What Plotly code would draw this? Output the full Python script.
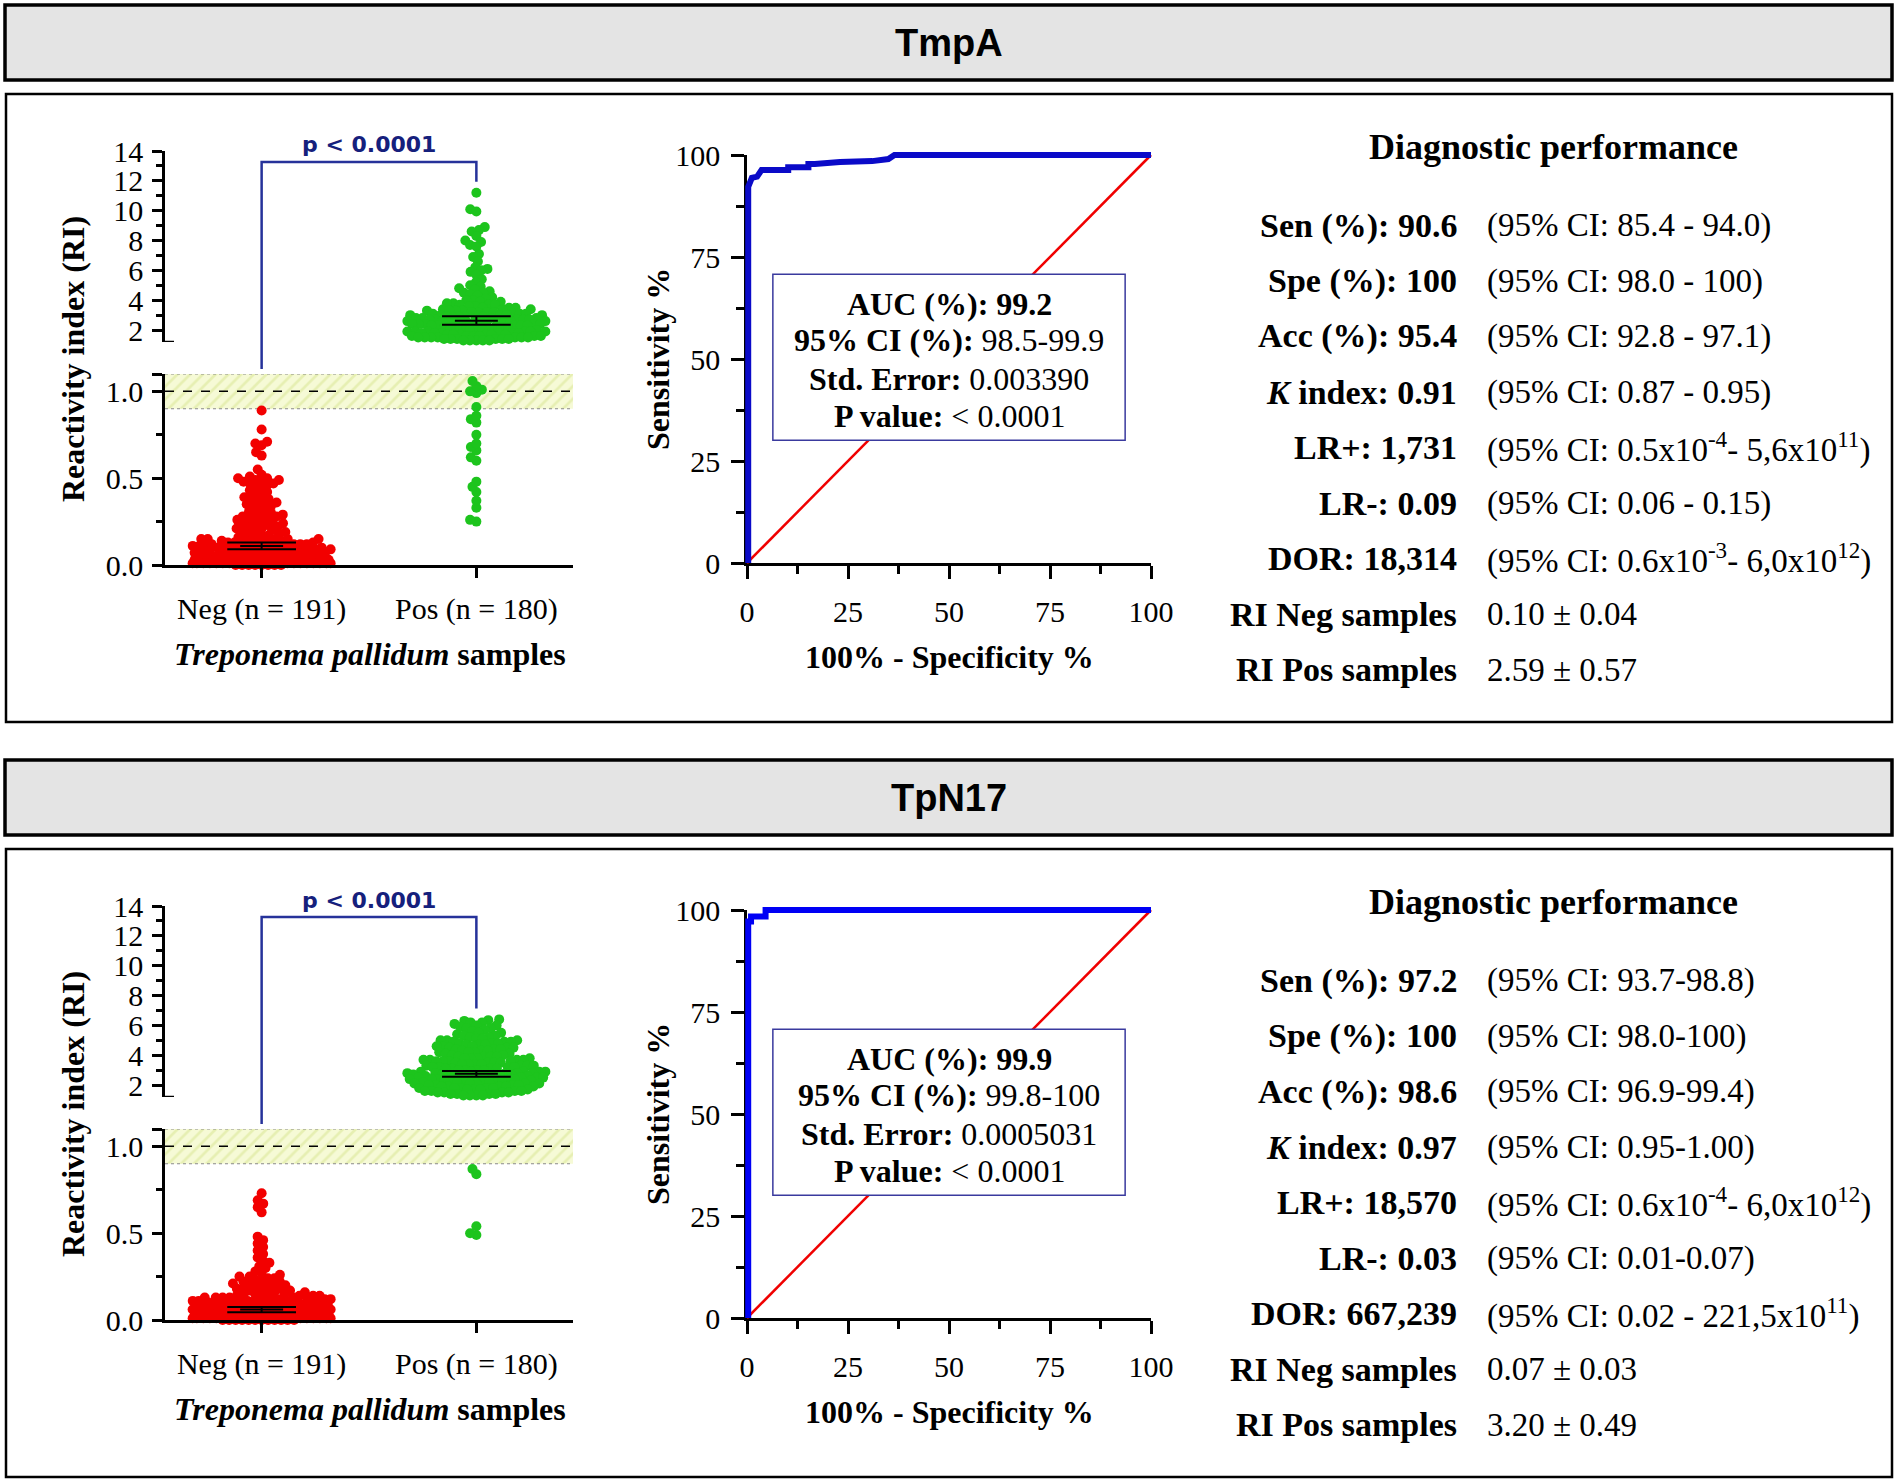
import math
import plotly.graph_objects as go

W, H = 1898, 1481
SERIF = "Liberation Serif"

# ---------------- data ----------------
panel_names = ["TmpA", "TpN17"]
group_names = ["Neg (n = 191)", "Pos (n = 180)"]
dot_colors = ["#F20000", "#1DC41D"]


def vals(s):
    return [float(v) for v in s.split()]


neg_tmpa = vals("""
0.00 0.00 0.00 0.00 0.00 0.00 0.00 0.00
0.01 0.01 0.01 0.01 0.01 0.01 0.01 0.01 0.01 0.01 0.01 0.01 0.01 0.01 0.01 0.01 0.01 0.01 0.01 0.01
0.02 0.02 0.02 0.02 0.02 0.02 0.02 0.02 0.02 0.02 0.02 0.02 0.02 0.02 0.02 0.02 0.02 0.02
0.03 0.03 0.03 0.03 0.03 0.03 0.03 0.03 0.03 0.03 0.03 0.03 0.03 0.03
0.04 0.04 0.04 0.04 0.04 0.04
0.05 0.05 0.05 0.05 0.05 0.05
0.06 0.06 0.06 0.06 0.06 0.06
0.07 0.07 0.07 0.07 0.07
0.08 0.08 0.08 0.08 0.08
0.09 0.09 0.09 0.09 0.09 0.09
0.10 0.10 0.10 0.10 0.10 0.10
0.11 0.11 0.11 0.11 0.11
0.12 0.12 0.12 0.12 0.12
0.13 0.13 0.13 0.13 0.13
0.14 0.14 0.14 0.14
0.15 0.15 0.15 0.15 0.15
0.16 0.16 0.17 0.17 0.18 0.18 0.19 0.19 0.20 0.20 0.21 0.21 0.22 0.22 0.23 0.23 0.24 0.24 0.25 0.25
0.26 0.26 0.27 0.27 0.28 0.28 0.29 0.29 0.30 0.30 0.31
0.32 0.33 0.34 0.34 0.35 0.36 0.36 0.37 0.38 0.38 0.39 0.40 0.41 0.42 0.43 0.44 0.45 0.46 0.47
0.47 0.48 0.48 0.49 0.49 0.50 0.50 0.51 0.52 0.55
0.63 0.65 0.69 0.70 0.71 0.78 0.89
""")

pos_tmpa = vals("""
0.25 0.26 0.33 0.37 0.42 0.45 0.48 0.60 0.62 0.66 0.68 0.70 0.75 0.82 0.84 0.86 0.91
0.99 1.00 1.01 1.03 1.06
11.2 10.1 9.95
8.9 8.7 8.6 8.3 8.0 7.9 7.7 7.6
7.1 6.9 6.6 6.2 6.1 6.0 5.9 5.7 5.4 5.2
5.0 4.9 4.8 4.7 4.6 4.5 4.5 4.4 4.3 4.2 4.1 4.0 4.0 3.9 3.9
3.8 3.8 3.7 3.7 3.7 3.6 3.6 3.5 3.5 3.5 3.4 3.4 3.4 3.3 3.3 3.3 3.3
3.2 3.2 3.2 3.2 3.1 3.1 3.1 3.1 3.0 3.0 3.0 3.0 3.0
2.9 2.9 2.9 2.9 2.9 2.8 2.8 2.8 2.8 2.8 2.7 2.7 2.7 2.7 2.7
2.6 2.6 2.6 2.6 2.6 2.6 2.5 2.5 2.5 2.5 2.5 2.5 2.4 2.4 2.4 2.4 2.4 2.4
2.3 2.3 2.3 2.3 2.3 2.2 2.2 2.2 2.2 2.1 2.1 2.1 2.1 2.0 2.0 2.0 2.0
1.9 1.9 1.9 1.9 1.9 1.9 1.8 1.8 1.8 1.8 1.8 1.8 1.7 1.7 1.7 1.7 1.7 1.7
1.6 1.6 1.6 1.6 1.6 1.6 1.5 1.5 1.5 1.5 1.5 1.5 1.5 1.4 1.4 1.4 1.4 1.4 1.4
1.3 1.3 1.3 1.3 1.3
""")

neg_tpn17 = vals("""
0.00 0.00 0.00 0.00 0.00 0.00 0.00 0.00 0.00 0.00 0.00 0.00
0.01 0.01 0.01 0.01 0.01 0.01 0.01 0.01 0.01 0.01 0.01 0.01 0.01 0.01 0.01 0.01 0.01 0.01 0.01 0.01 0.01 0.01
0.02 0.02 0.02 0.02 0.02 0.02 0.02 0.02 0.02 0.02 0.02 0.02 0.02 0.02 0.02 0.02 0.02 0.02 0.02 0.02
0.03 0.03 0.03 0.03 0.03 0.03 0.03 0.03 0.03 0.03 0.03 0.03 0.03 0.03 0.03 0.03
0.04 0.04 0.04 0.04 0.04 0.04 0.04 0.04 0.04
0.05 0.05 0.05 0.05 0.05 0.05 0.05 0.05
0.06 0.06 0.06 0.06 0.06 0.06 0.06 0.06
0.07 0.07 0.07 0.07 0.07 0.07 0.07
0.08 0.08 0.08 0.08 0.08 0.08
0.09 0.09 0.09 0.09 0.09 0.09 0.09 0.09
0.10 0.10 0.10 0.10 0.10 0.10 0.10
0.11 0.11 0.11 0.11 0.11 0.11 0.11
0.12 0.12 0.12 0.12 0.12 0.12
0.13 0.13 0.13 0.13 0.13
0.14 0.14 0.14 0.14 0.14
0.15 0.15 0.15
0.16 0.16 0.16 0.17 0.17 0.18 0.18 0.18 0.19 0.19 0.20 0.20 0.20 0.21 0.21 0.22 0.22 0.23 0.23
0.24 0.24 0.25 0.25 0.26
0.27 0.28 0.30 0.31 0.33 0.34 0.36 0.38 0.40 0.42 0.44 0.46 0.48
0.62 0.65 0.67 0.69 0.73
""")

pos_tpn17 = vals("""
0.49 0.50 0.54 0.84 0.87
6.4 6.35 6.3 6.2 6.2 6.1 6.0 6.0
5.9 5.8 5.8 5.7 5.6 5.5 5.5 5.4 5.3 5.3 5.2 5.2 5.1 5.1 5.0 5.0 5.0
4.9 4.9 4.9 4.8 4.8 4.8 4.7 4.7 4.7 4.6 4.6 4.6 4.5 4.5 4.5 4.4 4.4 4.4
4.3 4.3 4.3 4.2 4.2 4.2 4.1 4.1 4.0 4.0
3.9 3.9 3.9 3.9 3.8 3.8 3.8 3.8 3.7 3.7 3.7 3.7 3.6 3.6 3.6 3.6 3.5 3.5 3.5 3.5
3.4 3.4 3.4 3.4 3.3 3.3 3.3 3.3 3.2 3.2 3.2 3.2 3.1 3.1 3.1 3.1 3.0 3.0 3.0 3.0
2.9 2.9 2.9 2.9 2.9 2.8 2.8 2.8 2.8 2.8 2.7 2.7 2.7 2.7 2.7 2.7
2.6 2.6 2.6 2.6 2.6 2.6 2.5 2.5 2.5 2.5 2.5 2.5 2.4 2.4 2.4 2.4 2.4
2.3 2.3 2.3 2.3 2.3 2.2 2.2 2.2 2.2 2.2 2.1 2.1 2.1 2.1 2.1 2.0 2.0 2.0 2.0
1.9 1.9 1.9 1.9 1.9 1.8 1.8 1.8 1.8 1.8 1.7 1.7 1.7 1.7 1.6 1.6 1.6 1.6
1.5 1.5 1.5 1.5 1.4 1.4 1.4 1.4 1.3 1.3 1.3 1.3
""")

# mean and error bar ends, Neg / Pos
tmpa_mean = [0.11, 2.62]
tmpa_low = [0.09, 2.35]
tmpa_high = [0.13, 2.92]
tpn17_mean = [0.06, 2.75]
tpn17_low = [0.045, 2.55]
tpn17_high = [0.075, 2.95]

cutoff = 1.0
gray_zone = [0.9, 1.1]
p_text = "p &lt; 0.0001"

# ROC curves (100% - specificity, sensitivity)
roc_tmpa_fpr = [0.3, 0.3, 1.0, 1.2, 2.5, 3.6, 10.2, 10.2, 15.2, 15.2, 16.8, 23.0, 31.0, 35.0, 36.5, 100]
roc_tmpa_sens = [0, 92.2, 93.9, 94.4, 94.7, 96.3, 96.3, 97.0, 97.0, 97.8, 97.8, 98.3, 98.5, 99.0, 100, 100]
roc_tpn17_fpr = [0.3, 0.3, 1.0, 1.0, 4.6, 4.6, 100]
roc_tpn17_sens = [0, 97.2, 97.2, 98.4, 98.4, 100, 100]
roc_colors = ["#0A0AC8", "#0000F5"]

auc_names = ["AUC (%):", "95% CI (%):", "Std. Error:", "P value:"]
auc_tmpa = ["99.2", "98.5-99.9", "0.003390", "&lt; 0.0001"]
auc_tpn17 = ["99.9", "99.8-100", "0.0005031", "&lt; 0.0001"]

diag_tmpa_labels = ["Sen (%): 90.6", "Spe (%): 100", "Acc (%): 95.4", "<i>K</i> index: 0.91",
                    "LR+: 1,731", "LR-: 0.09", "DOR: 18,314", "RI Neg samples", "RI Pos samples"]
diag_tmpa_values = ["(95% CI: 85.4 - 94.0)", "(95% CI: 98.0 - 100)", "(95% CI: 92.8 - 97.1)",
                    "(95% CI: 0.87 - 0.95)", "(95% CI: 0.5x10<sup>-4</sup>- 5,6x10<sup>11</sup>)",
                    "(95% CI: 0.06 - 0.15)", "(95% CI: 0.6x10<sup>-3</sup>- 6,0x10<sup>12</sup>)",
                    "0.10 ± 0.04", "2.59 ± 0.57"]
diag_tpn17_labels = ["Sen (%): 97.2", "Spe (%): 100", "Acc (%): 98.6", "<i>K</i> index: 0.97",
                     "LR+: 18,570", "LR-: 0.03", "DOR: 667,239", "RI Neg samples", "RI Pos samples"]
diag_tpn17_values = ["(95% CI: 93.7-98.8)", "(95% CI: 98.0-100)", "(95% CI: 96.9-99.4)",
                     "(95% CI: 0.95-1.00)", "(95% CI: 0.6x10<sup>-4</sup>- 6,0x10<sup>12</sup>)",
                     "(95% CI: 0.01-0.07)", "(95% CI: 0.02 - 221,5x10<sup>11</sup>)",
                     "0.07 ± 0.03", "3.20 ± 0.49"]

panels = [
    dict(name=panel_names[0], groups=[neg_tmpa, pos_tmpa], mean=tmpa_mean, low=tmpa_low, high=tmpa_high,
         fpr=roc_tmpa_fpr, sens=roc_tmpa_sens, auc=auc_tmpa, labels=diag_tmpa_labels, values=diag_tmpa_values),
    dict(name=panel_names[1], groups=[neg_tpn17, pos_tpn17], mean=tpn17_mean, low=tpn17_low, high=tpn17_high,
         fpr=roc_tpn17_fpr, sens=roc_tpn17_sens, auc=auc_tpn17, labels=diag_tpn17_labels, values=diag_tpn17_values),
]

# ---------------- layout geometry (pixels, relative to a panel) ----------------
PANEL_STEP = 755
SC_L, SC_R = 165, 573
LOW_T, LOW_B = 374, 565
UP_T, UP_B = 151, 342
x_range = [-0.45, 1.45]
low_range = [0, 1.1]
up_range = [1.2, 14]
ROC_L, ROC_R, ROC_T, ROC_B = 747, 1151, 155, 563
PAD = 10
TICK_FONT = dict(family=SERIF, size=30, color="black")


def key(kind, i):
    return f"{kind}axis" + ("" if i == 1 else str(i))


def ref(kind, i):
    return kind + ("" if i == 1 else str(i))


def dx(a, b):
    return [a / W, b / W]


def dy(top, bottom):
    return [1 - bottom / H, 1 - top / H]


def ri_px(v):
    if v <= low_range[1]:
        return LOW_B - (v - low_range[0]) * (LOW_B - LOW_T) / (low_range[1] - low_range[0])
    return UP_B - (v - up_range[0]) * (UP_B - UP_T) / (up_range[1] - up_range[0])


def swarm(values, diam=6.5, half=69.0):
    # GraphPad-like column scatter: dots may overlap, spread sideways only as needed
    order = sorted(range(len(values)), key=lambda i: values[i])
    placed = []
    xs = [0.0] * len(values)
    for i in order:
        y = ri_px(values[i])
        near = [(px, py) for px, py in placed if abs(py - y) < diam]
        cands = [0.0]
        for px, py in near:
            d = math.sqrt(diam ** 2 - (py - y) ** 2)
            cands += [px + d, px - d]
        cands = sorted(set(round(c, 3) for c in cands), key=lambda c: (abs(c), c))
        pick = None
        for c in cands:
            if abs(c) > half:
                continue
            if all((c - px) ** 2 + (y - py) ** 2 >= diam ** 2 - 0.01 for px, py in near):
                pick = c
                break
        if pick is None:
            best = -1
            for step in range(-int(half), int(half) + 1):
                d = min(math.hypot(step - px, y - py) for px, py in near)
                if d > best:
                    best, pick = d, float(step)
        xs[i] = pick
        placed.append((pick, y))
    return xs


AX = dict(showline=True, linecolor="black", linewidth=2.5, ticks="outside", tickcolor="black",
          tickwidth=2.5, showgrid=False, zeroline=False, fixedrange=True, automargin=False,
          tickfont=TICK_FONT)

fig = go.Figure()
axes = {}
shapes = []
notes = []


def note(x, y, text, size, xref="paper", yref="paper", family=SERIF, color="black",
         xanchor="center", yanchor="middle", **kw):
    if xref == "paper":
        x = x / W
    if yref == "paper":
        y = 1 - y / H
    notes.append(dict(x=x, y=y, xref=xref, yref=yref, text=text, showarrow=False,
                      xanchor=xanchor, yanchor=yanchor,
                      font=dict(family=family, size=size, color=color), **kw))


unit_px = (SC_R - SC_L) / (x_range[1] - x_range[0])

for k, p in enumerate(panels):
    off = k * PANEL_STEP
    xs_i, xr_i, xo_i = 3 * k + 1, 3 * k + 2, 3 * k + 3
    yl_i, yu_i, yr_i, yo_i = 4 * k + 1, 4 * k + 2, 4 * k + 3, 4 * k + 4
    xs, yl, yu = ref("x", xs_i), ref("y", yl_i), ref("y", yu_i)
    xr, yr, xo, yo = ref("x", xr_i), ref("y", yr_i), ref("x", xo_i), ref("y", yo_i)

    # title strip and panel frame
    shapes.append(dict(type="rect", xref="paper", yref="paper", x0=5 / W, x1=1892 / W,
                       y0=1 - (80 + off) / H, y1=1 - (5 + off) / H,
                       fillcolor="#E4E4E4", line=dict(color="black", width=3.5), layer="below"))
    note(949, 43 + off, f"<b>{p['name']}</b>", 38, family="Liberation Sans")
    shapes.append(dict(type="rect", xref="paper", yref="paper", x0=6 / W, x1=1892 / W,
                       y0=1 - (722 + off) / H, y1=1 - (94 + off) / H,
                       line=dict(color="black", width=2.5), layer="below"))

    # ---------- scatter with broken axis ----------
    axes[key("x", xs_i)] = dict(AX, domain=dx(SC_L, SC_R), range=x_range, anchor=yl,
                                tickvals=[0, 1], ticktext=group_names, ticklen=10, ticklabelstandoff=5)
    axes[key("y", yl_i)] = dict(AX, domain=dy(LOW_T + off, LOW_B + off), range=low_range, anchor=xs,
                                tickvals=[0, 0.5, 1.0, 1.1], ticktext=["0.0", "0.5", "1.0", ""],
                                ticklen=10, ticklabelstandoff=3,
                                minor=dict(tickmode="array", tickvals=[0.25, 0.75], ticklen=6,
                                           tickwidth=2.5, tickcolor="black", ticks="outside"))
    axes[key("y", yu_i)] = dict(AX, domain=dy(UP_T + off, UP_B + off), range=up_range, anchor=xs,
                                tickvals=[2, 4, 6, 8, 10, 12, 14], ticklen=10, ticklabelstandoff=3,
                                minor=dict(tickmode="array", tickvals=[3, 5, 7, 9, 11, 13], ticklen=6,
                                           tickwidth=2.5, tickcolor="black", ticks="outside"))
    shapes.append(dict(type="line", xref="paper", yref=yu, x0=SC_L / W, x1=(SC_L + 9) / W,
                       y0=up_range[0], y1=up_range[0], line=dict(color="black", width=2.5)))

    # gray zone band and cutoff
    fig.add_trace(go.Scatter(x=[x_range[0], x_range[1], x_range[1], x_range[0]],
                             y=[gray_zone[0], gray_zone[0], gray_zone[1], gray_zone[1]],
                             fill="toself", mode="none", fillcolor="#F4F8D0",
                             fillpattern=dict(shape="/", bgcolor="#F6FAD6", fgcolor="#D6E48E",
                                              size=9, solidity=0.3),
                             xaxis=xs, yaxis=yl, hoverinfo="skip"))
    fig.add_trace(go.Scatter(x=[x_range[0], x_range[1], None, x_range[0], x_range[1]],
                             y=[gray_zone[0], gray_zone[0], None, gray_zone[1], gray_zone[1]],
                             mode="lines", line=dict(color="#8A8A8A", width=1.2, dash="dot"),
                             xaxis=xs, yaxis=yl, hoverinfo="skip"))
    fig.add_trace(go.Scatter(x=x_range, y=[cutoff, cutoff], mode="lines",
                             line=dict(color="black", width=1.5, dash="dash"),
                             xaxis=xs, yaxis=yl, hoverinfo="skip"))

    # dots
    for g, values in enumerate(p["groups"]):
        offs = swarm(values)
        xv = [g + o / unit_px for o in offs]
        lo = [(x, v) for x, v in zip(xv, values) if v <= low_range[1]]
        hi = [(x, v) for x, v in zip(xv, values) if v > low_range[1]]
        for part, yax in ((lo, yl), (hi, yu)):
            if part:
                fig.add_trace(go.Scatter(x=[a for a, _ in part], y=[b for _, b in part], mode="markers",
                                         marker=dict(size=10, color=dot_colors[g], line=dict(width=0)),
                                         cliponaxis=False, xaxis=xs, yaxis=yax))
        # mean with error bars
        m, lo_v, hi_v = p["mean"][g], p["low"][g], p["high"][g]
        yax = yl if m <= low_range[1] else yu
        fig.add_trace(go.Scatter(
            x=[g - 0.16, g + 0.16, None, g - 0.16, g + 0.16, None, g - 0.1, g + 0.1, None, g, g],
            y=[lo_v, lo_v, None, hi_v, hi_v, None, m, m, None, lo_v, hi_v],
            mode="lines", line=dict(color="black", width=2), xaxis=xs, yaxis=yax, hoverinfo="skip"))

    # significance bracket: left leg stops above the lower segment, right leg above the top Pos dot
    top_px = 162 + off
    left_px = LOW_T - 5 + off
    right_px = ri_px(max(p["groups"][1])) - 11 + off
    shapes.append(dict(type="path", xref=xs, yref="paper",
                       path=f"M 0,{1 - left_px / H} L 0,{1 - top_px / H} "
                            f"L 1,{1 - top_px / H} L 1,{1 - right_px / H}",
                       line=dict(color="#26329A", width=2.5)))
    note(0.5, 145 + off, f"<b>{p_text}</b>", 22, xref=xs, family="DejaVu Sans", color="#15207C")

    note(73, 359 + off, "<b>Reactivity index (RI)</b>", 32, textangle=-90)
    note(370, 654 + off, "<b><i>Treponema pallidum</i> samples</b>", 32)

    # ---------- ROC ----------
    roc_ticks = [0, 25, 50, 75, 100]
    roc_minor = dict(tickmode="array", tickvals=[12.5, 37.5, 62.5, 87.5], ticklen=8,
                     tickwidth=2.5, tickcolor="black", ticks="outside")
    axes[key("x", xr_i)] = dict(AX, domain=dx(ROC_L, ROC_R), range=[0, 100], anchor=yr,
                                tickvals=roc_ticks, ticklen=13, ticklabelstandoff=7, minor=roc_minor)
    axes[key("y", yr_i)] = dict(AX, domain=dy(ROC_T + off, ROC_B + off), range=[0, 100], anchor=xr,
                                tickvals=roc_ticks, ticklen=13, ticklabelstandoff=5, minor=roc_minor)
    # invisible overlay with the same scale so the thick curve is not clipped at the frame
    ex = PAD * 100 / (ROC_R - ROC_L)
    ey = PAD * 100 / (ROC_B - ROC_T)
    axes[key("x", xo_i)] = dict(domain=dx(ROC_L - PAD, ROC_R + PAD), range=[-ex, 100 + ex],
                                anchor=yo, visible=False, fixedrange=True, automargin=False)
    axes[key("y", yo_i)] = dict(domain=dy(ROC_T - PAD + off, ROC_B + PAD + off), range=[-ey, 100 + ey],
                                anchor=xo, visible=False, fixedrange=True, automargin=False)
    fig.add_trace(go.Scatter(x=[0, 100], y=[0, 100], mode="lines", line=dict(color="#F00000", width=2.5),
                             xaxis=xo, yaxis=yo, hoverinfo="skip"))
    fig.add_trace(go.Scatter(x=p["fpr"], y=p["sens"], mode="lines",
                             line=dict(color=roc_colors[k], width=6), xaxis=xo, yaxis=yo))

    note(658, 359 + off, "<b>Sensitivity %</b>", 32, textangle=-90)
    note(949, 657 + off, "<b>100% - Specificity %</b>", 32)

    # AUC box
    shapes.append(dict(type="rect", xref=xr, yref=yr, x0=6.4, x1=93.6, y0=30.1, y1=70.8,
                       fillcolor="white", line=dict(color="#3A3A9E", width=1.5), layer="above"))
    for j, (nm, v) in enumerate(zip(auc_names, p["auc"])):
        body = f"<b>{nm} {v}</b>" if j == 0 else f"<b>{nm}</b> {v}"
        note(50, [304, 340, 379, 416][j] + off, body, 32, xref=xr)

    # diagnostic performance table
    note(1553, 147 + off, "<b>Diagnostic performance</b>", 36)
    for j, (lab, val) in enumerate(zip(p["labels"], p["values"])):
        y = 225.5 + 55.5 * j + off
        note(1459, y, f"<b>{lab}</b>", 34, xanchor="right")
        note(1485, y, val, 33, xanchor="left")

fig.update_layout(width=W, height=H, margin=dict(l=0, r=0, t=0, b=0), autosize=False,
                  paper_bgcolor="white", plot_bgcolor="rgba(0,0,0,0)", showlegend=False,
                  hovermode=False, shapes=shapes, annotations=notes, **axes)

fig.write_html("out.html", config={"displayModeBar": False},
               post_script="document.body.style.margin = '0px';")
